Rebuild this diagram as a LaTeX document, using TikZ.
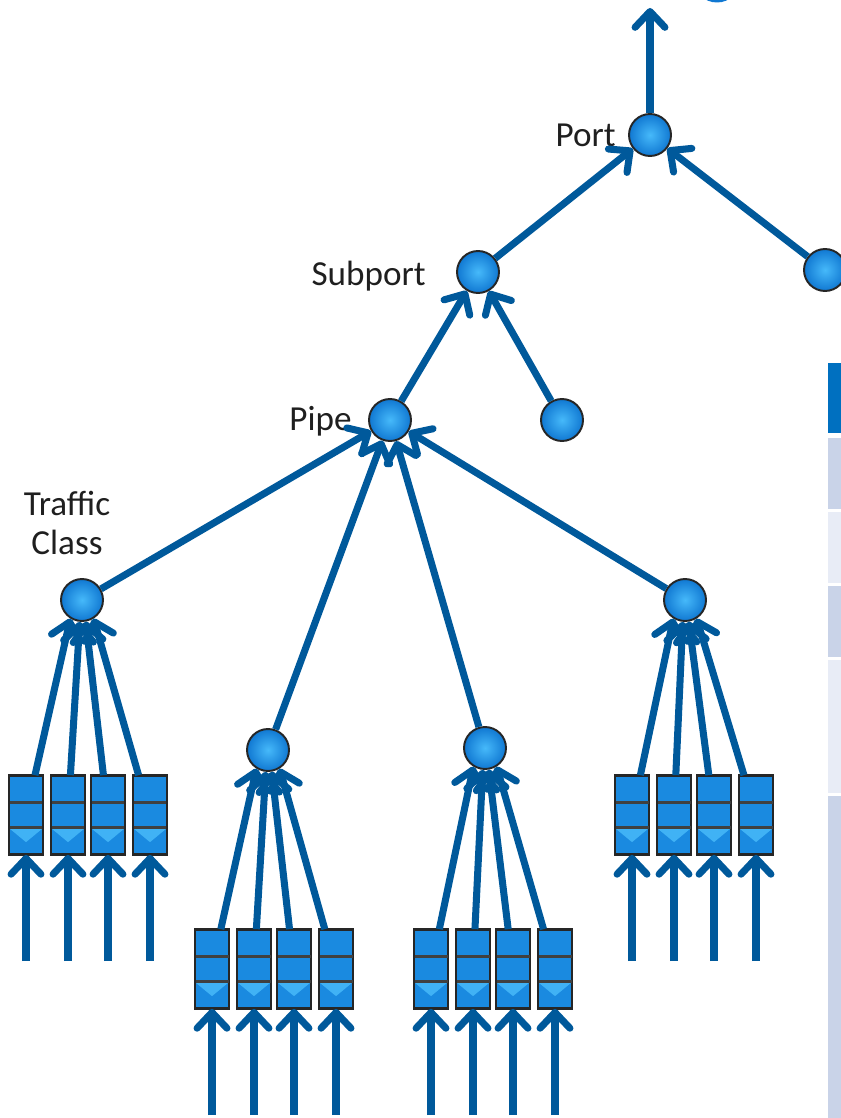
\documentclass[tikz,border=0pt]{standalone}
\usepackage{fontspec}
\setmainfont{Carlito}
\usetikzlibrary{arrows.meta,calc}
\definecolor{linkblue}{RGB}{0,89,155}
\definecolor{ballin}{RGB}{70,185,250}
\definecolor{ballout}{RGB}{16,120,210}
\definecolor{qblue}{RGB}{26,138,224}
\definecolor{qlight}{RGB}{64,178,245}
\definecolor{hdrblue}{RGB}{0,112,192}
\definecolor{rowdark}{RGB}{201,211,232}
\definecolor{rowlight}{RGB}{232,236,246}
\tikzset{ball/.style={circle, minimum size=0.84cm, inner sep=0pt, draw=black!85, line width=1.1pt, inner color=ballin, outer color=ballout}}
\tikzset{queue/.style={rectangle, minimum width=0.66cm, minimum height=1.56cm, inner sep=0pt, draw=black!85, line width=1pt, fill=qblue}}
\tikzset{qsep/.style={draw=black!75, line width=1.6pt}}
\tikzset{link/.style={draw=linkblue, line width=4pt, -{Straight Barb[length=9pt,width=17pt,round]}}}
\tikzset{lbl/.style={inner sep=0pt, text=black!88, font=\fontsize{20}{22.7}\selectfont}}

\begin{document}
\begin{tikzpicture}[x=0.02cm,y=-0.02cm]
                    \useasboundingbox (0,0) rectangle (841,1118);
                    % table edge on the right
                    \fill[hdrblue] (828,363) rectangle (841,433);
                    \fill[rowdark] (828,438) rectangle (841,509);
                    \fill[rowlight] (828,512) rectangle (841,583);
                    \fill[rowdark] (828,586) rectangle (841,657);
                    \fill[rowlight] (828,660) rectangle (841,793);
                    \fill[rowdark] (828,796) rectangle (841,1118);
                    \fill[ballout] (717,-21) circle (23.5);

                    \node[ball] (port) at (650,135) {};
                    \node[ball] (portr) at (825,270) {};
                    \node[ball] (subport) at (478,272) {};
                    \node[ball] (subportr) at (562,420) {};
                    \node[ball] (pipe) at (390,420) {};
                    \coordinate (out) at (650,8);

                    \node[lbl, anchor=east] (portlbl) at (616,135) {Port};
                    \node[lbl, anchor=east] (subportlbl) at (426,276) {Subport};
                    \node[lbl, anchor=east] (pipelbl) at (352,421) {Pipe};
                    \node[lbl, align=center] (tclbl) at (67,523) {Traffic\\Class};

                    \foreach \g/\bx/\qy/\tx/\ty in {a/26/815/82/600, b/212/969/268/750, c/431/969/485/748, d/632/815/685/600}{
                        \node[ball] (tc\g) at (\tx,\ty) {};
                        \foreach \dx/\ang[count=\n] in {0/238,42/264,82/280,124/302}{
                            \node[queue] (q\g\n) at (\bx+\dx,\qy) {};
                            \fill[qlight] ($(q\g\n.north west)!0.66!(q\g\n.south west)$) -- ($(q\g\n.north east)!0.66!(q\g\n.south east)$)
                                -- ($(q\g\n.north)!0.84!(q\g\n.south)$) -- cycle;
                            \draw[qsep] ($(q\g\n.north west)!0.34!(q\g\n.south west)$) -- ($(q\g\n.north east)!0.34!(q\g\n.south east)$);
                            \draw[qsep] ($(q\g\n.north west)!0.66!(q\g\n.south west)$) -- ($(q\g\n.north east)!0.66!(q\g\n.south east)$);
                            \draw[queue, fill=none] (q\g\n.north west) rectangle (q\g\n.south east);
                            \coordinate (in\g\n) at (\bx+\dx,\qy+146);
                            \draw[link] (in\g\n) -- (q\g\n);
                            \draw[link] (q\g\n) -- (tc\g.\ang);
                        }
                        \draw[link] (tc\g) -- (pipe);
                    }

                    \draw[link] (pipe) -- (subport);
                    \draw[link] (subportr) -- (subport);
                    \draw[link] (subport) -- (port);
                    \draw[link] (portr) -- (port);
                    \draw[link] (port) -- (out);
\end{tikzpicture}
\end{document}
